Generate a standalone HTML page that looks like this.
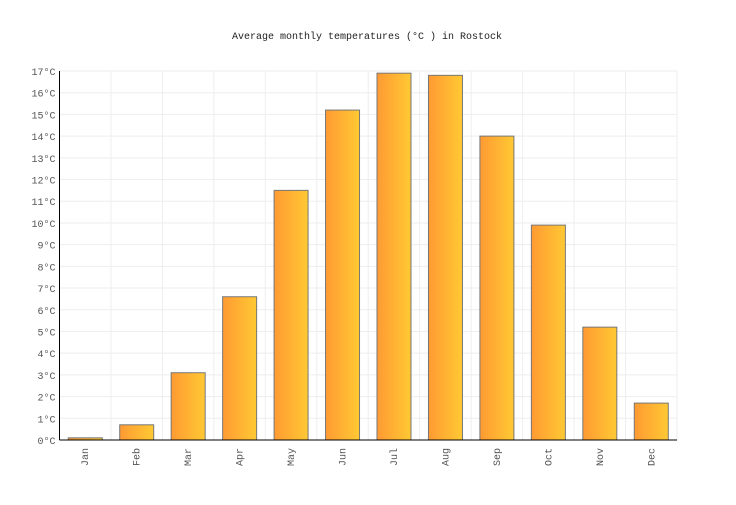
<!DOCTYPE html>
<html><head><meta charset="utf-8"><style>
body{margin:0;background:#fff}
svg text{font-family:"Liberation Mono","DejaVu Sans Mono",monospace;font-size:10px;fill:#555}
</style></head><body>
<svg id="chart" width="736" height="500">
<defs><linearGradient id="g" x1="0" x2="1" y1="0" y2="0"><stop offset="0" stop-color="#ff9a33"/><stop offset="1" stop-color="#ffc933"/></linearGradient></defs>
<text x="367" y="39" text-anchor="middle" style="fill:#222;font-size:10px">Average monthly temperatures (°C ) in Rostock</text>
<g id="grid"></g><g id="bars"></g><g id="axes"></g>
</svg>
<script>
const months=["Jan","Feb","Mar","Apr","May","Jun","Jul","Aug","Sep","Oct","Nov","Dec"];
const temps=[0.1,0.7,3.1,6.6,11.5,15.2,16.9,16.8,14.0,9.9,5.2,1.7];
const yTicks=[0,1,2,3,4,5,6,7,8,9,10,11,12,13,14,15,16,17];
const L=59.5,R=677,T=71,B=440,yMax=17;
const ns="http://www.w3.org/2000/svg";
const cw=(R-L)/months.length;
const y=v=>B-(v/yMax)*(B-T);
const x=i=>L+i*cw;
function mk(t,a,p){const e=document.createElementNS(ns,t);for(const k in a)e.setAttribute(k,a[k]);p.appendChild(e);return e;}
const grid=document.getElementById('grid'),bars=document.getElementById('bars'),axes=document.getElementById('axes');
yTicks.forEach(v=>{
 const l=mk('line',{x1:L,x2:R,y1:y(v),y2:y(v),stroke:'#eee'},grid);
 
 
 const t=mk('text',{x:L-4,y:y(v)+4,'text-anchor':'end'},axes);
 t.textContent=v+'°C';
 
 
});
months.forEach((m,i)=>{
 const g=mk('line',{x1:x(i+1),x2:x(i+1),y1:T,y2:B,stroke:'#eee'},grid);
 
 
 const r=mk('rect',{x:x(i)+8.75,y:y(temps[i]),width:34,height:B-y(temps[i]),fill:'url(#g)',stroke:'#777','stroke-width':1},bars);
 
 
 const cx=x(i)+cw/2+3,cy=B+8;
 const t=mk('text',{x:cx,y:cy,'text-anchor':'end',transform:`rotate(-90 ${cx} ${cy})`},axes);
 t.textContent=m;
 
 
});
const ya=mk('line',{x1:L,x2:L,y1:T,y2:B,stroke:'#000'},axes);


const xa=mk('line',{x1:L,x2:R,y1:B,y2:B,stroke:'#000'},axes);


</script>
</body></html>
